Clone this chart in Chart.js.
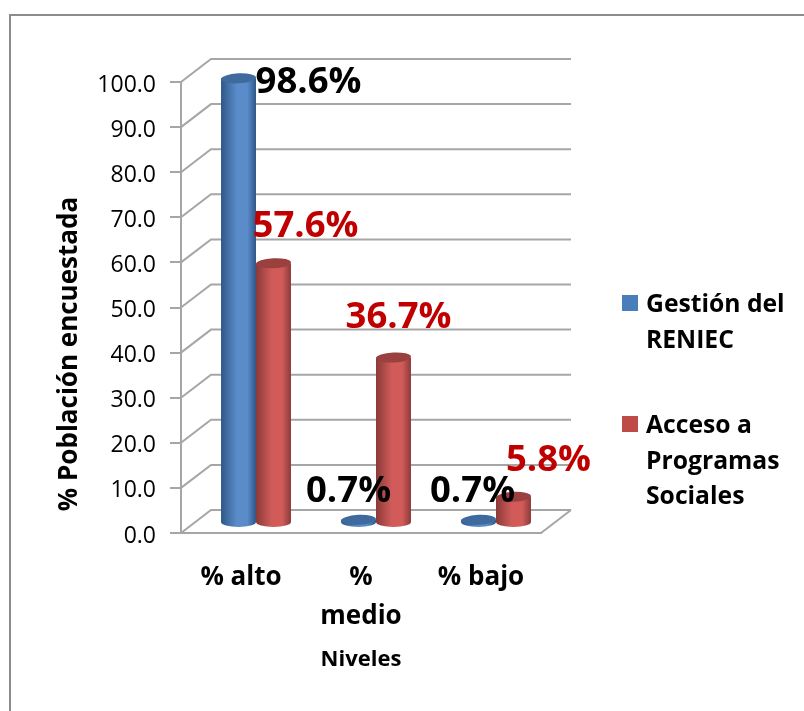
<!DOCTYPE html>
<html>
<head>
<meta charset="utf-8">
<script src="https://cdn.jsdelivr.net/npm/chart.js@4"></script>
<style>
    html, body { margin: 0; padding: 0; background: #fff; }
    #wrap { position: absolute; left: 0; top: 0; width: 804px; height: 711px; }
</style>
</head>
<body>
<div id="wrap"><canvas id="nivelesChart" width="804" height="711"></canvas></div>
<script>
const categories = ['% alto', ['%', 'medio'], '% bajo'];
const reniecValues = [98.6, 0.7, 0.7];
const programasValues = [57.6, 36.7, 5.8];
const yTicks = [0, 10, 20, 30, 40, 50, 60, 70, 80, 90, 100];
const seriesNames = [['Gestión del', 'RENIEC'], ['Acceso a', 'Programas', 'Sociales']];

const FONT = '"Open Sans", sans-serif';
const GRID = '#a6a6a6';
const DEPTH_X = 30, DEPTH_Y = 23;      // back wall offset
const BAR_DX = 15, BAR_DY = 10;        // bars stand mid way on the floor
const CAT_PCT = 0.583;
const ELLIPSE_RY = 5;
const ELLIPSE_TILT = -0.05;

const palette = [
    { edge: '#2f5788', mid: '#5a8cca', top: '#3f6a9e', label: '#000000', swatch: '#4a7ebb' },
    { edge: '#8b3a38', mid: '#d05b59', top: '#9a403e', label: '#c00000', swatch: '#be4b48' }
];

// label nudges from the top of each bar, by series then category
const labelNudge = [
    [[70, 4], [-10, -28], [-6, -28]],
    [[32, -37], [5, -40], [35, -36]]
];

function cylinderFill(chart, datasetIndex, dataIndex) {
    const c = palette[datasetIndex];
    if (!chart.chartArea) return c.mid;
    const w = chart.chartArea.width / categories.length * CAT_PCT / 2;
    const cx = chart.scales.x.getPixelForValue(dataIndex);
    const x0 = cx + (datasetIndex - 1) * w;
    const g = chart.ctx.createLinearGradient(x0, 0, x0 + w, 0);
    g.addColorStop(0, c.edge);
    g.addColorStop(0.45, c.mid);
    g.addColorStop(0.75, c.mid);
    g.addColorStop(1, c.edge);
    return g;
}

const wallsPlugin = {
    id: 'walls',
    beforeDatasetsDraw(chart) {
        const { ctx, chartArea: a, scales: { y } } = chart;
        ctx.save();
        ctx.strokeStyle = GRID;
        ctx.lineWidth = 2;
        yTicks.forEach(v => {
            const py = y.getPixelForValue(v);
            ctx.beginPath();
            ctx.moveTo(a.left, py);
            ctx.lineTo(a.left + DEPTH_X, py - DEPTH_Y);
            ctx.lineTo(a.right + DEPTH_X, py - DEPTH_Y);
            ctx.stroke();
        });
        ctx.beginPath();
        ctx.moveTo(a.right, a.bottom);
        ctx.lineTo(a.right + DEPTH_X, a.bottom - DEPTH_Y);
        ctx.stroke();
        ctx.restore();

        // bars get shifted onto the floor until afterDatasetsDraw
        ctx.save();
        ctx.translate(BAR_DX, -BAR_DY);
    },
    beforeDatasetDraw(chart, args) {
        const { ctx } = chart;
        chart.getDatasetMeta(args.index).data.forEach((bar, i) => {
            ctx.fillStyle = cylinderFill(chart, args.index, i);
            ctx.beginPath();
            ctx.ellipse(bar.x, bar.base, bar.width / 2, ELLIPSE_RY, 0, 0, Math.PI * 2);
            ctx.fill();
        });
    },
    afterDatasetDraw(chart, args) {
        const { ctx } = chart;
        chart.getDatasetMeta(args.index).data.forEach(bar => {
            ctx.fillStyle = palette[args.index].top;
            ctx.beginPath();
            ctx.ellipse(bar.x, bar.y, bar.width / 2, ELLIPSE_RY, ELLIPSE_TILT, 0, Math.PI * 2);
            ctx.fill();
        });
    },
    afterDatasetsDraw(chart) {
        chart.ctx.restore();
    }
};

const textPlugin = {
    id: 'chartText',
    afterDraw(chart) {
        const { ctx } = chart;
        ctx.save();

        // frame
        ctx.strokeStyle = '#8c8c8c';
        ctx.lineWidth = 2;
        ctx.strokeRect(10, 15, 900, 900);

        // value labels
        ctx.font = 'bold 36.5px ' + FONT;
        ctx.textAlign = 'center';
        ctx.textBaseline = 'middle';
        chart.data.datasets.forEach((ds, d) => {
            ctx.fillStyle = palette[d].label;
            chart.getDatasetMeta(d).data.forEach((bar, i) => {
                const [nx, ny] = labelNudge[d][i];
                ctx.fillText(ds.data[i].toFixed(1) + '%', bar.x + BAR_DX + nx, bar.y - BAR_DY + ny);
            });
        });

        // y title sits lower than the plot centre, so it is placed by hand
        ctx.fillStyle = '#000';
        ctx.font = 'bold 26px ' + FONT;
        ctx.translate(70, 354);
        ctx.rotate(-Math.PI / 2);
        ctx.fillText('% Población encuestada', 0, 0);
        ctx.restore();

        // legend with wrapped names
        ctx.save();
        ctx.textAlign = 'left';
        ctx.textBaseline = 'middle';
        ctx.font = 'bold 24.7px ' + FONT;
        const swatchY = [295, 416];
        seriesNames.forEach((lines, s) => {
            ctx.fillStyle = palette[s].swatch;
            ctx.fillRect(622, swatchY[s], 16, 16);
            ctx.fillStyle = '#000';
            lines.forEach((t, l) => ctx.fillText(t, 646, swatchY[s] + 10 + l * 35.5));
        });
        ctx.restore();
    }
};

new Chart(document.getElementById('nivelesChart'), {
    type: 'bar',
    data: {
        labels: categories,
        datasets: [
            {
                label: 'Gestión del RENIEC',
                data: reniecValues,
                clip: false,
                backgroundColor: c => cylinderFill(c.chart, 0, c.dataIndex)
            },
            {
                label: 'Acceso a Programas Sociales',
                data: programasValues,
                clip: false,
                backgroundColor: c => cylinderFill(c.chart, 1, c.dataIndex)
            }
        ]
    },
    plugins: [wallsPlugin, textPlugin],
    options: {
        responsive: false,
        animation: false,
        layout: { padding: { left: 0, right: 263, top: 82, bottom: 0 } },
        datasets: { bar: { barPercentage: 1, categoryPercentage: CAT_PCT } },
        plugins: { legend: { display: false }, tooltip: { enabled: false } },
        scales: {
            x: {
                grid: { display: false },
                border: { color: GRID, width: 2 },
                ticks: { color: '#000', font: { family: FONT, size: 26, weight: 'bold', lineHeight: 1.5 }, padding: 17, maxRotation: 0, autoSkip: false },
                title: {
                    display: true,
                    text: 'Niveles',
                    color: '#000',
                    font: { family: FONT, size: 22, weight: 'bold' },
                    padding: { top: 0, bottom: 38 }
                },
                afterFit: s => { s.height = 178; }
            },
            y: {
                min: 0,
                max: 100,
                afterBuildTicks: s => { s.ticks = yTicks.map(v => ({ value: v })); },
                grid: { drawOnChartArea: false, color: GRID, lineWidth: 2, tickLength: 11 },
                border: { color: GRID, width: 2 },
                ticks: {
                    color: '#000',
                    font: { family: FONT, size: 23, lineHeight: 0.26 },
                    padding: 14,
                    // empty first line pushes the number down a little, as in the original
                    callback: v => ['', v.toFixed(1)]
                },
                afterFit: s => { s.width = 181; }
            }
        }
    }
});
</script>
</body>
</html>
